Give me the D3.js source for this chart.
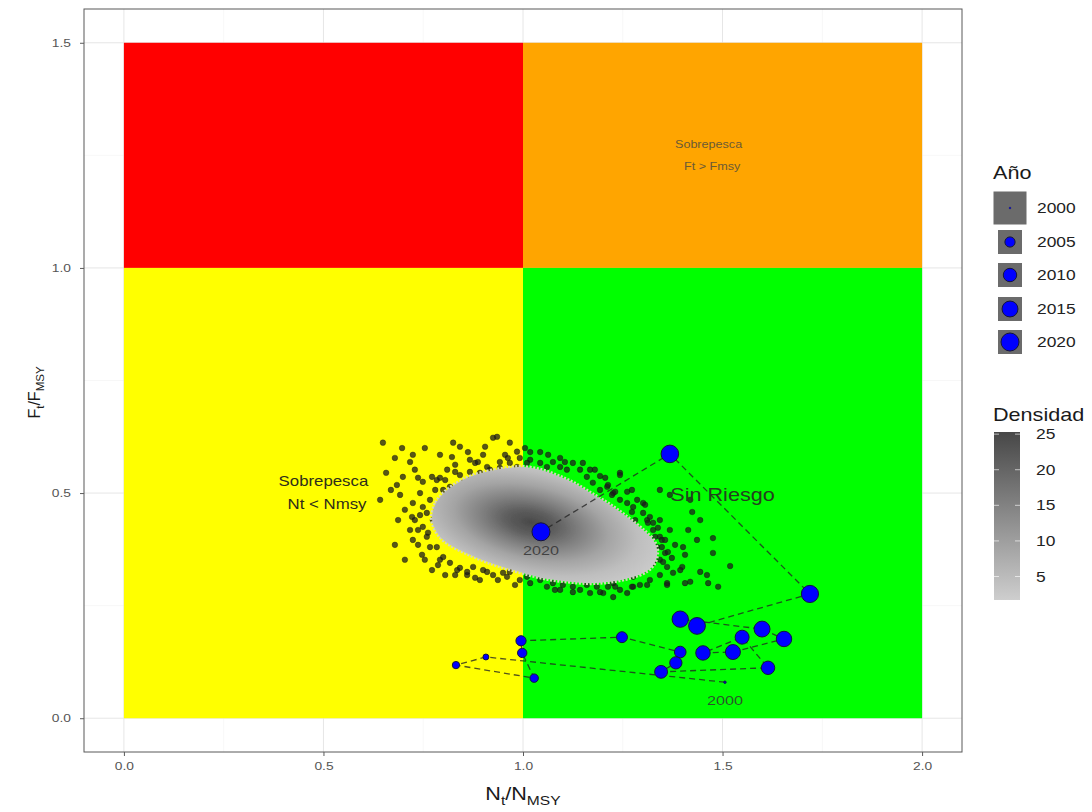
<!DOCTYPE html>
<html>
<head>
<meta charset="utf-8">
<script src="https://cdn.jsdelivr.net/npm/d3@7"></script>
<style>
  body { margin: 0; background: #fff; }
  svg { font-family: "Liberation Sans", Arial, Helvetica, sans-serif; }
</style>
</head>
<body>
<svg id="chart" width="1092" height="812"></svg>
<script>
// ---- Data ---------------------------------------------------------------
const xTicks = [0, 0.5, 1, 1.5, 2];
const yTicks = [0, 0.5, 1, 1.5];
const xMinor = [0.25, 0.75, 1.25, 1.75];
const yMinor = [0.25, 0.75, 1.25];

// Kobe quadrants: [N0, N1, F0, F1]
const zoneBounds = [[0, 1, 1, 1.5], [1, 2, 1, 1.5], [0, 1, 0, 1], [1, 2, 0, 1]];
const zonePalette = ["#ff0000", "#ffa500", "#ffff00", "#00ff00"];

// Yearly trajectory of N/Nmsy and F/Fmsy
const years = [2000, 2001, 2002, 2003, 2004, 2005, 2006, 2007, 2008, 2009, 2010,
               2011, 2012, 2013, 2014, 2015, 2016, 2017, 2018, 2019, 2020];
const trajN = [1.506, 0.907, 0.832, 1.028, 0.998, 0.995, 1.248, 1.394, 1.383, 1.346, 1.614,
               1.549, 1.451, 1.526, 1.654, 1.599, 1.394, 1.436, 1.719, 1.368, 1.045];
const trajF = [0.080, 0.136, 0.118, 0.089, 0.145, 0.172, 0.180, 0.147, 0.123, 0.103, 0.112,
               0.180, 0.145, 0.147, 0.176, 0.198, 0.220, 0.205, 0.276, 0.587, 0.414];
const labelledYears = [2000, 2020];
const legendYears = [2000, 2005, 2010, 2015, 2020];

// Posterior draws for the final year [N/Nmsy, F/Fmsy]
const samplePoints = [
  [0.649,0.612],[0.657,0.545],[0.669,0.507],[0.684,0.518],[0.699,0.536],[0.724,0.585],
  [0.717,0.569],[0.729,0.552],[0.737,0.534],[0.749,0.525],[0.772,0.536],[0.784,0.529],
  [0.792,0.534],[0.792,0.585],[0.822,0.580],[0.825,0.612],[0.842,0.603],[0.880,0.567],
  [0.887,0.569],[0.925,0.623],[0.935,0.625],[0.967,0.612],[0.985,0.592],[0.962,0.578],
  [0.942,0.556],[0.917,0.552],[0.867,0.547],[0.842,0.540],[0.817,0.514],[0.800,0.507],
  [0.767,0.485],[0.749,0.469],[0.724,0.478],[0.722,0.447],[0.729,0.440],[0.724,0.396],
  [0.762,0.412],[0.784,0.380],[0.747,0.363],[0.792,0.352],[0.835,0.329],[0.787,0.340],
  [0.860,0.318],[0.900,0.329],[0.950,0.323],[0.967,0.325],[1.010,0.314],[1.043,0.307],
  [1.075,0.300],[1.100,0.296],[1.125,0.292],[1.160,0.296],[1.185,0.292],[1.226,0.300],
  [1.251,0.314],[1.276,0.314],[1.301,0.329],[1.326,0.345],[1.343,0.352],[1.356,0.367],
  [1.336,0.380],[1.343,0.403],[1.326,0.418],[1.311,0.440],[1.301,0.456],[1.276,0.469],
  [1.261,0.478],[1.243,0.485],[1.226,0.500],[1.211,0.514],[1.193,0.507],[1.175,0.523],
  [1.160,0.536],[1.143,0.552],[1.125,0.567],[1.110,0.552],[1.093,0.558],[1.075,0.569],
  [1.060,0.558],[1.043,0.567],[1.018,0.574],[1.010,0.567],[1.150,0.567],[1.243,0.545],
  [1.261,0.503],[1.286,0.485],[1.301,0.478],[1.318,0.447],[1.326,0.434],[1.348,0.396],
  [1.361,0.336],[1.376,0.323],[1.361,0.300],[1.311,0.296],[1.276,0.292],[1.243,0.285],
  [1.201,0.278],[1.168,0.278],[1.125,0.280],[1.093,0.285],[1.060,0.292],[1.018,0.300],
  [0.992,0.307],[0.960,0.314],[0.925,0.318],[0.910,0.325],[0.875,0.336],[0.860,0.325],
  [0.842,0.334],[0.817,0.345],[0.800,0.358],[0.767,0.380],[0.759,0.403],[0.749,0.425],
  [0.774,0.440],[0.759,0.456],[0.784,0.463],[0.797,0.478],[0.810,0.492],[0.835,0.507],
  [0.850,0.523],[0.867,0.529],[0.892,0.545],[0.910,0.558],[0.942,0.569],[0.967,0.567],
  [0.985,0.558],[1.243,0.540],[1.213,0.518],[1.223,0.496],[1.231,0.503],[1.273,0.458],
  [1.281,0.440],[1.313,0.434],[1.338,0.423],[1.331,0.403],[1.356,0.396],[1.348,0.380],
  [1.363,0.369],[1.401,0.380],[1.406,0.363],[1.424,0.458],[1.414,0.418],[1.436,0.396],
  [1.476,0.400],[1.476,0.367],[1.519,0.338],[1.444,0.325],[1.461,0.318],[1.464,0.300],
  [1.489,0.292],[1.406,0.300],[1.419,0.303],[1.399,0.336],[1.394,0.329],[1.361,0.296],
  [1.351,0.347],[1.293,0.296],[1.273,0.292],[1.261,0.278],[1.226,0.269],[1.231,0.292],
  [1.213,0.292],[0.679,0.578],[0.697,0.600],[0.754,0.600],[0.862,0.591],[0.905,0.603],
  [1.005,0.600],[1.043,0.591],[1.093,0.578],[1.180,0.552],[1.193,0.538],[0.642,0.485],
  [0.687,0.440],[0.704,0.352],[0.737,0.385],[0.805,0.318],[0.892,0.307],[1.444,0.440],
  [1.419,0.485],[1.368,0.496],[1.343,0.507],[0.810,0.552],[0.830,0.563],[0.900,0.585],
  [0.867,0.574],[1.018,0.591],[1.063,0.585],[1.105,0.569],[1.168,0.552],[1.206,0.534],
  [1.273,0.507],[1.306,0.474],[1.343,0.440],[1.368,0.418],[1.381,0.385],[1.373,0.356],
  [1.343,0.318],[1.318,0.307],[1.193,0.280],[1.143,0.285],[1.080,0.285],[0.980,0.296],
  [0.937,0.307],[0.880,0.312],[0.830,0.318],[0.772,0.329],[0.754,0.352],[0.737,0.418],
  [0.742,0.451],[0.704,0.463],[0.692,0.496],[0.742,0.500],[0.780,0.507],[0.805,0.529],
  [0.830,0.547],[0.955,0.585],[0.992,0.578],[0.717,0.418],[0.679,0.385]
];

// Outline of the high-density region of the draws
const densityOutline = [
  [0.772,0.447],[0.782,0.478],[0.805,0.503],[0.837,0.523],[0.872,0.538],[0.917,0.549],
  [0.967,0.556],[1.000,0.558],[1.043,0.552],[1.088,0.538],[1.130,0.521],[1.173,0.498],
  [1.218,0.474],[1.263,0.445],[1.301,0.418],[1.326,0.396],[1.336,0.374],[1.331,0.347],
  [1.311,0.327],[1.268,0.312],[1.218,0.303],[1.168,0.300],[1.118,0.303],[1.063,0.309],
  [1.010,0.320],[0.955,0.334],[0.905,0.349],[0.857,0.367],[0.817,0.385],[0.792,0.403],
  [0.777,0.425]
];
// Density peak and its decay (relative distance from the peak, density)
const densityPeak = [1.02, 0.435];
const densitySpread = [0.34, 0.14];
const densityProfile = [[0, 25], [0.18, 21.5], [0.38, 15], [0.58, 9], [0.8, 4.5], [1, 2.2]];
const densityDomain = [1.7, 25.3];
const densityTicks = [5, 10, 15, 20, 25];

// ---- Layout -------------------------------------------------------------
const svg = d3.select("#chart");
const x = d3.scaleLinear().domain([-0.1, 2.1]).range([84, 962]);
const y = d3.scaleLinear().domain([-0.075, 1.575]).range([752, 9]);
const r = d3.scaleSqrt().domain([0, 20]).range([1.2, 9]);
const dens = d3.scaleLinear().domain(densityDomain).range(["#cecece", "#474747"]);

const panel = svg.append("g");
panel.append("rect").attr("x", x.range()[0]).attr("y", y.range()[1])
  .attr("width", x.range()[1] - x.range()[0]).attr("height", y.range()[0] - y.range()[1])
  .attr("fill", "#fff");

// grid
const grid = panel.append("g");
grid.selectAll(".vminor").data(xMinor).join("line")
  .attr("x1", d => x(d)).attr("x2", d => x(d)).attr("y1", y.range()[0]).attr("y2", y.range()[1])
  .attr("stroke", "#f2f2f2").attr("stroke-width", 0.6);
grid.selectAll(".hminor").data(yMinor).join("line")
  .attr("y1", d => y(d)).attr("y2", d => y(d)).attr("x1", x.range()[0]).attr("x2", x.range()[1])
  .attr("stroke", "#f2f2f2").attr("stroke-width", 0.6);
grid.selectAll(".vmajor").data(xTicks).join("line")
  .attr("x1", d => x(d)).attr("x2", d => x(d)).attr("y1", y.range()[0]).attr("y2", y.range()[1])
  .attr("stroke", "#e6e6e6").attr("stroke-width", 1);
grid.selectAll(".hmajor").data(yTicks).join("line")
  .attr("y1", d => y(d)).attr("y2", d => y(d)).attr("x1", x.range()[0]).attr("x2", x.range()[1])
  .attr("stroke", "#e6e6e6").attr("stroke-width", 1);

// quadrants
panel.selectAll(".zone").data(zoneBounds).join("rect")
  .attr("x", d => x(d[0])).attr("width", d => x(d[1]) - x(d[0]))
  .attr("y", d => y(d[3])).attr("height", d => y(d[2]) - y(d[3]))
  .attr("fill", (d, i) => zonePalette[i]);

// posterior draws
panel.append("g").selectAll("circle").data(samplePoints).join("circle")
  .attr("cx", d => x(d[0])).attr("cy", d => y(d[1])).attr("r", 2.8)
  .attr("fill", "#1c1c1c").attr("fill-opacity", 0.74)
  .attr("stroke", "#111").attr("stroke-opacity", 0.6).attr("stroke-width", 0.6);

// density surface
const defs = svg.append("defs");
const pcx = x(densityPeak[0]), pcy = y(densityPeak[1]);
const rx = x(densityPeak[0] + densitySpread[0]) - pcx;
const ry = pcy - y(densityPeak[1] + densitySpread[1]);
const grad = defs.append("radialGradient").attr("id", "densGrad")
  .attr("gradientUnits", "userSpaceOnUse")
  .attr("cx", pcx).attr("cy", pcy).attr("r", rx)
  .attr("gradientTransform", `translate(${pcx},${pcy}) rotate(12) scale(1,${ry / rx}) translate(${-pcx},${-pcy})`);
grad.selectAll("stop").data(densityProfile).join("stop")
  .attr("offset", d => d[0]).attr("stop-color", d => dens(d[1]));
defs.append("filter").attr("id", "soft").append("feGaussianBlur").attr("stdDeviation", 0.6);

const outline = d3.line().x(d => x(d[0])).y(d => y(d[1])).curve(d3.curveCatmullRomClosed.alpha(0.5));
panel.append("path").attr("d", outline(densityOutline))
  .attr("fill", "none").attr("stroke", "#d6d6bc").attr("stroke-width", 4)
  .attr("stroke-dasharray", "2,1.6").attr("filter", "url(#soft)");
panel.append("path").attr("d", outline(densityOutline))
  .attr("fill", "url(#densGrad)").attr("filter", "url(#soft)");

// trajectory
const traj = years.map((yr, i) => ({ yr, n: trajN[i], f: trajF[i] }));
panel.append("path")
  .attr("d", d3.line().x(d => x(d.n)).y(d => y(d.f))(traj))
  .attr("fill", "none").attr("stroke", "#222").attr("stroke-opacity", 0.78)
  .attr("stroke-width", 1.3).attr("stroke-dasharray", "6,4");
panel.append("g").selectAll("circle").data(traj).join("circle")
  .attr("cx", d => x(d.n)).attr("cy", d => y(d.f)).attr("r", d => r(d.yr - years[0]))
  .attr("fill", "#0000ff").attr("stroke", "#14143c").attr("stroke-width", 1);

// year labels
panel.append("g").selectAll("text").data(traj.filter(d => labelledYears.includes(d.yr))).join("text")
  .attr("x", d => x(d.n)).attr("y", d => y(d.f) + 23)
  .attr("text-anchor", "middle").attr("font-size", 13.5).attr("fill", "#333").attr("fill-opacity", 0.85)
  .text(d => d.yr);

// quadrant annotations
const notes = panel.append("g");
function note(n, f, lines, size, color, gap) {
  const t = notes.append("text").attr("text-anchor", "middle").attr("font-size", size).attr("fill", color);
  lines.forEach((ln, i) => {
    t.append("tspan").attr("x", x(n) + (i ? 3 : 0))
      .attr("y", y(f) + (i - (lines.length - 1) / 2) * gap + size * 0.35).text(ln);
  });
}
note(0.5, 0.5, ["Sobrepesca", "Nt < Nmsy"], 14, "#2e2e1a", 23);
note(1.465, 1.25, ["Sobrepesca", "Ft > Fmsy"], 10.5, "#6b5a35", 22);
note(1.5, 0.496, ["Sin Riesgo"], 18, "#24401f", 0);

// panel border
panel.append("rect").attr("x", x.range()[0]).attr("y", y.range()[1])
  .attr("width", x.range()[1] - x.range()[0]).attr("height", y.range()[0] - y.range()[1])
  .attr("fill", "none").attr("stroke", "#595959").attr("stroke-width", 1);

// axes
const xAxis = svg.append("g").attr("transform", `translate(0,${y.range()[0]})`)
  .call(d3.axisBottom(x).tickValues(xTicks).tickFormat(d3.format(".1f")).tickSize(4).tickPadding(6));
const yAxis = svg.append("g").attr("transform", `translate(${x.range()[0]},0)`)
  .call(d3.axisLeft(y).tickValues(yTicks).tickFormat(d3.format(".1f")).tickSize(4).tickPadding(9));
[xAxis, yAxis].forEach(a => {
  a.select(".domain").remove();
  a.selectAll(".tick line").attr("stroke", "#5a5a5a");
  a.selectAll(".tick text").attr("fill", "#555").attr("font-size", 11.5)
    .attr("font-family", "'Liberation Sans', Arial, sans-serif");
});

// axis titles
const xt = svg.append("text").attr("x", x(1)).attr("y", 800).attr("text-anchor", "middle")
  .attr("font-size", 18).attr("fill", "#1a1a1a");
xt.append("tspan").text("N");
xt.append("tspan").attr("font-size", 13).attr("dy", 5).text("t");
xt.append("tspan").attr("dy", -5).text("/N");
xt.append("tspan").attr("font-size", 13).attr("dy", 5).text("MSY");

const yt = svg.append("text").attr("class", "upright")
  .attr("transform", `translate(40,${(y.range()[0] + y.range()[1]) / 2 + 12}) rotate(-90)`)
  .attr("text-anchor", "middle").attr("font-size", 16).attr("fill", "#1a1a1a");
yt.append("tspan").text("F");
yt.append("tspan").attr("font-size", 11.5).attr("dy", 4).text("t");
yt.append("tspan").attr("dy", -4).text("/F");
yt.append("tspan").attr("font-size", 11.5).attr("dy", 4).text("MSY");

// ---- Legend: year size --------------------------------------------------
const lg = svg.append("g");
lg.append("text").attr("x", 993).attr("y", 179).attr("font-size", 18).attr("fill", "#1a1a1a").text("Año");
const keyCenters = [208, 242, 275, 309, 342];
legendYears.forEach((yr, i) => {
  const k = i === 0 ? 33 : 24;
  const cy = keyCenters[i];
  lg.append("rect").attr("x", 1010 - k / 2).attr("y", cy - k / 2).attr("width", k).attr("height", k)
    .attr("fill", "#6b6b6b");
  lg.append("circle").attr("cx", 1010).attr("cy", cy).attr("r", i === 0 ? 0.9 : r(yr - years[0]))
    .attr("fill", "#0000ff").attr("stroke", "#14143c").attr("stroke-width", i === 0 ? 0.4 : 1);
  lg.append("text").attr("x", 1037).attr("y", cy + 5).attr("font-size", 14.5).attr("fill", "#222").text(yr);
});

// ---- Legend: density colour bar ----------------------------------------
const cbTop = 432, cbBottom = 600, cbX = 994, cbW = 26;
const cb = d3.scaleLinear().domain(densityDomain).range([cbBottom, cbTop]);
const cbGrad = defs.append("linearGradient").attr("id", "cbGrad")
  .attr("x1", 0).attr("y1", 1).attr("x2", 0).attr("y2", 0);
cbGrad.append("stop").attr("offset", 0).attr("stop-color", dens(densityDomain[0]));
cbGrad.append("stop").attr("offset", 1).attr("stop-color", dens(densityDomain[1]));
lg.append("text").attr("x", 993).attr("y", 421).attr("font-size", 18).attr("fill", "#1a1a1a").text("Densidad");
lg.append("rect").attr("x", cbX).attr("y", cbTop).attr("width", cbW).attr("height", cbBottom - cbTop)
  .attr("fill", "url(#cbGrad)");
densityTicks.forEach(t => {
  [[cbX, cbX + 5], [cbX + cbW - 5, cbX + cbW]].forEach(([a, b]) => {
    lg.append("line").attr("x1", a).attr("x2", b).attr("y1", cb(t)).attr("y2", cb(t))
      .attr("stroke", "#fff").attr("stroke-opacity", 0.8).attr("stroke-width", 0.8);
  });
  lg.append("text").attr("x", 1036).attr("y", cb(t) + 5).attr("font-size", 14.5).attr("fill", "#222").text(t);
});

// ---- Text proportions: glyphs drawn slightly wide ------------------------
const widen = 1.2;
svg.selectAll("text").filter(function () { return !this.classList.contains("upright"); })
  .each(function () {
    const b = this.getBBox();
    const anchor = getComputedStyle(this).textAnchor;
    const ax = anchor === "middle" ? b.x + b.width / 2 : anchor === "end" ? b.x + b.width : b.x;
    d3.select(this).attr("transform", `translate(${ax},0) scale(${widen},1) translate(${-ax},0)`);
  });
</script>
</body>
</html>
